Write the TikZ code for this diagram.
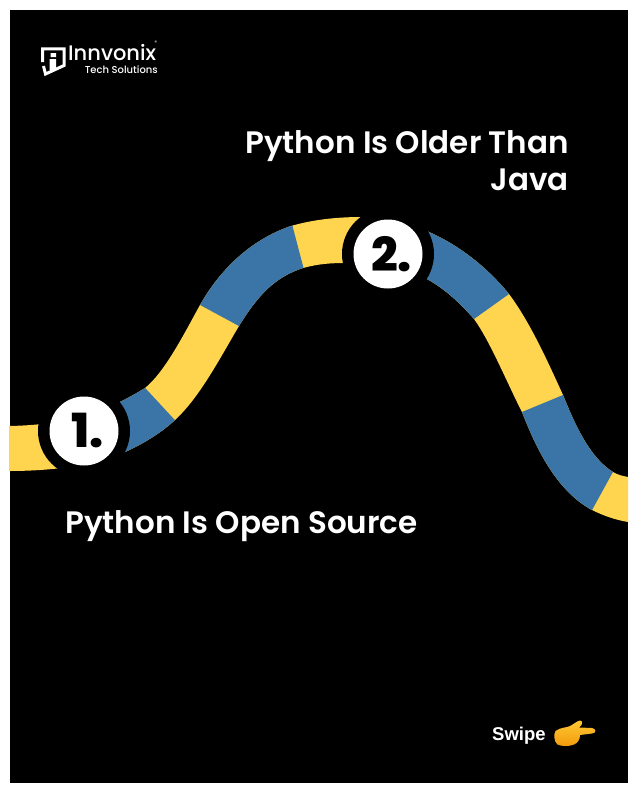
\documentclass[tikz,border=0pt]{standalone}
\usepackage{fontspec}
\setmainfont{Poppins}
\newfontfamily\swipefont{Liberation Sans}
\newfontfamily\medfont{Poppins Medium}
\newfontfamily\semifont{Poppins SemiBold}
\newfontfamily\heavyfont{Poppins ExtraBold}
\definecolor{bandyellow}{HTML}{FFD54F}
\definecolor{bandblue}{HTML}{3B74A6}
\definecolor{handtop}{HTML}{FFC832}
\definecolor{handbot}{HTML}{F29A0E}
\newcommand{\bandshape}{(9,426) .. controls (60,425) and (100,416) .. (145,388)
  .. controls (165,372) and (185,332) .. (200,305)
  .. controls (220,270) and (250,240) .. (291,226)
  .. controls (315,219) and (340,217) .. (362,217)
  .. controls (385,217) and (405,222) .. (429,232)
  .. controls (458,245) and (485,265) .. (509,294)
  .. controls (530,322) and (548,362) .. (563,395)
  .. controls (575,425) and (590,458) .. (613,472)
  .. controls (618,475) and (623,476) .. (628,477)
  -- (628,522)
  .. controls (616,520) and (604,516) .. (592,510)
  .. controls (555,490) and (535,445) .. (522,412)
  .. controls (508,385) and (490,341) .. (474,319)
  .. controls (460,303) and (445,289) .. (427,279)
  .. controls (400,264) and (375,261) .. (345,263)
  .. controls (330,263) and (318,264) .. (303,268)
  .. controls (275,277) and (258,295) .. (239,326)
  .. controls (220,358) and (200,397) .. (175,420)
  .. controls (162,432) and (145,443) .. (125,452)
  .. controls (90,468) and (40,471) .. (9,471) -- cycle}
\tikzset{
  ring/.style={circle,fill=black,minimum size=92pt,inner sep=0pt},
  badge/.style={circle,fill=white,minimum size=69pt,inner sep=0pt,text=black,font=\heavyfont\fontsize{47}{47}\selectfont},
  headline/.style={text=white,font=\semifont\fontsize{31}{37}\selectfont}
}
\begin{document}
\begin{tikzpicture}[x=1pt,y=-1pt]
\useasboundingbox (0,0) rectangle (638,798);
\fill[white] (0,0) rectangle (638,798);
\fill[black] (9.5,10) rectangle (628,783);
% band
\fill[bandyellow] \bandshape;
\begin{scope}
  \clip (90,390) -- (135,377) -- (185,431) -- (110,470) -- cycle;
  \fill[bandblue] \bandshape;
\end{scope}
\begin{scope}
  \clip (189,299) -- (287,205) -- (308,285) -- (250,332) -- cycle;
  \fill[bandblue] \bandshape;
\end{scope}
\begin{scope}
  \clip (388,190) -- (530,279) -- (453,334) -- (388,300) -- cycle;
  \fill[bandblue] \bandshape;
\end{scope}
\begin{scope}
  \clip (505,419) -- (580,388) -- (625,450) -- (580,532) -- cycle;
  \fill[bandblue] \bandshape;
\end{scope}
% badges
\node[ring] (r1) at (84,431) {};
\node[ring] (r2) at (388,254) {};
\node[badge] (b1) at (84,431) {\kern7pt 1.};
\node[badge] (b2) at (388,254) {\kern7pt 2.};
% headlines
\node[headline,anchor=north east,align=right,inner sep=0pt] (t2) at (569,130.5) {Python Is Older Than\\Java};
\node[headline,anchor=west,inner sep=0pt] (t1) at (65,526) {Python Is Open Source};
% logo
\draw[white,line width=3pt,line join=miter] (42.5,62) -- (42.5,48.8) -- (64,48.8) -- (64,65.5) -- (45.5,74) -- (43.5,66);
\fill[white] (50.5,53) rectangle (56,57) (49.5,59) rectangle (56,70);
\node[text=white,anchor=west,inner sep=0pt,font=\medfont\fontsize{21}{21}\selectfont] (brand) at (68,52.5) {Innvonix};
\node[text=white,anchor=east,inner sep=0pt,font=\medfont\fontsize{10}{10}\selectfont] (tag) at (158,69.5) {Tech Solutions};
\node[text=white,anchor=center,inner sep=0pt,font=\fontsize{5}{5}\selectfont] (reg) at (156,43) {®};
% swipe
\node[text=white,anchor=west,inner sep=0pt,font=\swipefont\fontsize{18.5}{18.5}\selectfont\bfseries] (sw) at (492,736) {Swipe};
\fill[top color=handtop,bottom color=handbot] (555.5,731) .. controls (561,727) and (566,728) .. (570,726) .. controls (574,724) and (577,721) .. (580,720.5) .. controls (583,720.5) and (583,725) .. (579,727.5) -- (592,728) .. controls (596.5,729) and (596.5,733) .. (592,733.5) -- (580,735) .. controls (580,739) and (578,743) .. (574,744.5) .. controls (570,746.5) and (561,746.5) .. (557.5,744.5) .. controls (554,742) and (553.5,734) .. (555.5,731) -- cycle;
\end{tikzpicture}
\end{document}
